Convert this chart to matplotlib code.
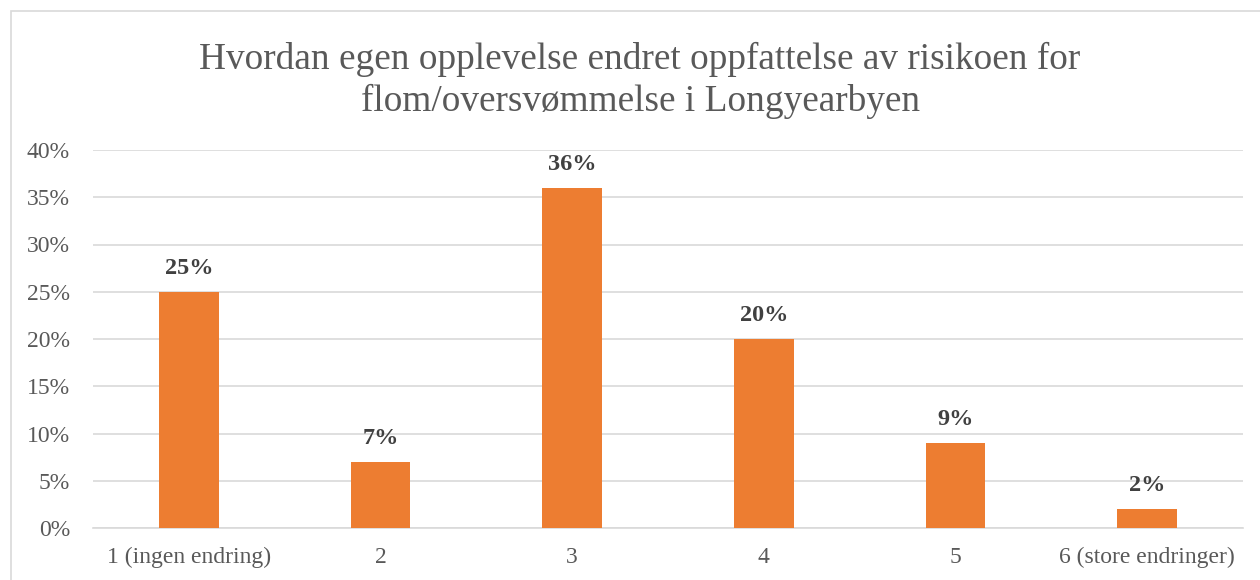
import matplotlib

matplotlib.use("Agg")
import matplotlib.pyplot as plt
from matplotlib.patches import Rectangle
from matplotlib.ticker import FuncFormatter, MultipleLocator

categories = ["1 (ingen endring)", "2", "3", "4", "5", "6 (store endringer)"]
values = [25, 7, 36, 20, 9, 2]
title = "Hvordan egen opplevelse endret oppfattelse av risikoen for\nflom/oversvømmelse i Longyearbyen"

plt.rcParams["font.family"] = ["Liberation Serif", "DejaVu Serif"]

W, H = 1260, 580
fig = plt.figure(figsize=(W / 100, H / 100), dpi=100)

# light grey frame of the chart area (right/bottom edges cut off)
fig.patches.append(
    Rectangle((11 / W, -0.1), 1.2, 1 - 11 / H + 0.1, transform=fig.transFigure,
              fill=False, edgecolor="#d9d9d9", linewidth=1.2)
)

ax = fig.add_axes([93 / W, (H - 528) / H, (1243 - 93) / W, (528 - 150) / H])

x = range(len(categories))
ax.bar(x, values, width=0.313, color="#ed7d31", zorder=3)
for xi, v in zip(x, values):
    ax.text(xi, v + 1.4, f"{v}%", ha="center", va="bottom", fontsize=17.5,
            fontweight="bold", color="#404040")

ax.set_xlim(-0.5, len(categories) - 0.5)
ax.set_ylim(0, 40)
ax.yaxis.set_major_locator(MultipleLocator(5))
ax.yaxis.set_major_formatter(FuncFormatter(lambda v, _: f"{v:.0f}%"))
ax.set_xticks(list(x))
ax.set_xticklabels(categories)
ax.tick_params(axis="both", length=0, labelsize=17, labelcolor="#595959")
ax.tick_params(axis="x", pad=13.5)
ax.tick_params(axis="y", pad=16.5)
ax.grid(axis="y", color="#d9d9d9", linewidth=1.2, zorder=0)
for side in ["top", "right", "left"]:
    ax.spines[side].set_visible(False)
ax.spines["bottom"].set_color("#d9d9d9")
ax.spines["bottom"].set_linewidth(1.2)

fig.text(0.508, 1 - 111 / H, title, ha="center", va="baseline", fontsize=26.8,
         color="#595959", linespacing=1.27)

fig.savefig("out.png", dpi=100)
